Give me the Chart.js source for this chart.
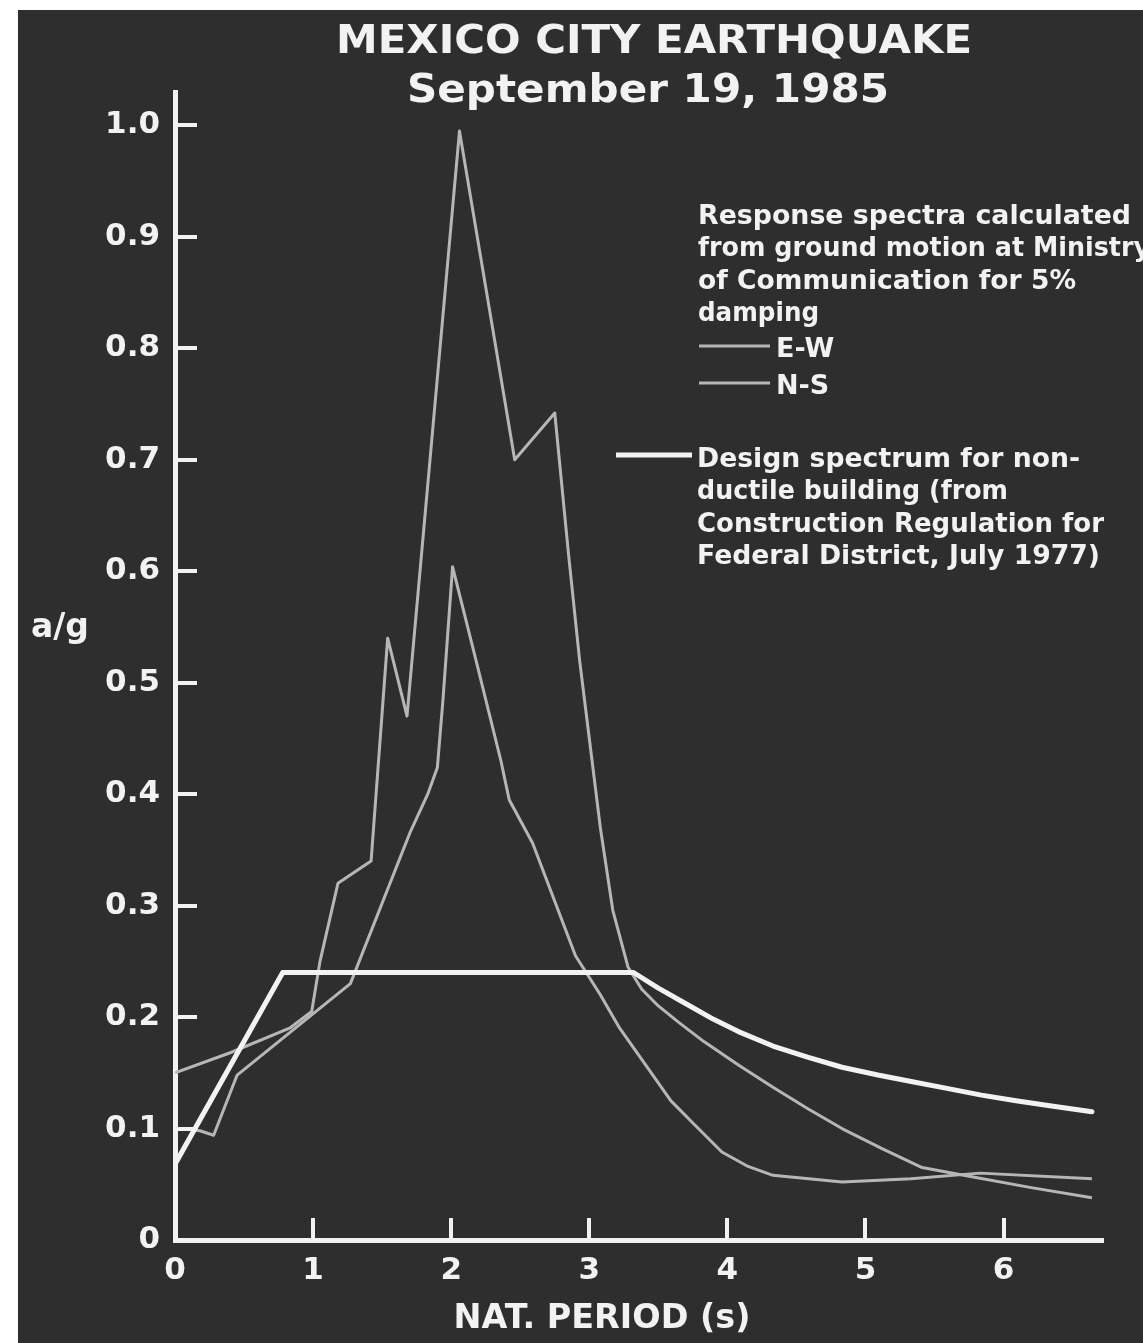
<!DOCTYPE html>
<html>
<head>
<meta charset="utf-8">
<style>
  html, body { margin: 0; padding: 0; background: #ffffff; }
  canvas { display: block; }
</style>
<script src="https://cdn.jsdelivr.net/npm/chart.js@4.4.0/dist/chart.umd.min.js"></script>
</head>
<body>
<canvas id="c" width="1143" height="1343"></canvas>
<script>
// ---- Data ----
const ewPeriod = [0, 0.40, 0.83, 0.99, 1.05, 1.18, 1.42, 1.54, 1.68, 2.06, 2.46, 2.75, 2.85, 2.93, 2.99, 3.08, 3.17, 3.28, 3.38, 3.50, 3.65, 3.83, 4.08, 4.33, 4.58, 4.83, 5.12, 5.41, 5.76, 6.20, 6.64];
const ewAccel  = [0.150, 0.168, 0.190, 0.205, 0.250, 0.320, 0.340, 0.540, 0.470, 0.995, 0.700, 0.742, 0.615, 0.520, 0.460, 0.370, 0.296, 0.245, 0.225, 0.210, 0.195, 0.178, 0.157, 0.137, 0.118, 0.100, 0.082, 0.065, 0.057, 0.047, 0.038];

const nsPeriod = [0.05, 0.18, 0.28, 0.45, 1.27, 1.70, 1.83, 1.90, 1.94, 2.01, 2.16, 2.36, 2.42, 2.59, 2.90, 3.08, 3.22, 3.46, 3.59, 3.75, 3.96, 4.15, 4.33, 4.83, 5.33, 5.83, 6.64];
const nsAccel  = [0.100, 0.098, 0.094, 0.148, 0.230, 0.365, 0.400, 0.424, 0.484, 0.604, 0.530, 0.430, 0.395, 0.356, 0.255, 0.220, 0.190, 0.148, 0.125, 0.105, 0.079, 0.066, 0.058, 0.052, 0.055, 0.060, 0.055];

const designPeriod = [0, 0.78, 3.32, 3.50, 3.70, 3.90, 4.08, 4.33, 4.58, 4.83, 5.09, 5.34, 5.59, 5.84, 6.09, 6.36, 6.64];
const designAccel  = [0.068, 0.240, 0.240, 0.226, 0.212, 0.198, 0.187, 0.174, 0.164, 0.155, 0.148, 0.142, 0.136, 0.130, 0.125, 0.120, 0.115];

const xTickValues = [0, 1, 2, 3, 4, 5, 6];
const yTickValues = [0, 0.1, 0.2, 0.3, 0.4, 0.5, 0.6, 0.7, 0.8, 0.9, 1.0];

const titleLines = ['MEXICO CITY EARTHQUAKE', 'September 19, 1985'];
const yAxisTitle = 'a/g';
const xAxisTitle = 'NAT. PERIOD (s)';
const noteLines = ['Response spectra calculated', 'from ground motion at Ministry', 'of Communication for 5%', 'damping'];
const seriesNames = ['E-W', 'N-S'];
const designLines = ['Design spectrum for non-', 'ductile building (from', 'Construction Regulation for', 'Federal District, July 1977)'];

// ---- Style ----
const BG = '#2e2e2e';
const INK = '#f2f2f2';
const GREY = '#b6b6b6';
const FONT = '"DejaVu Sans", "Liberation Sans", sans-serif';
const noteWidths = [433, 452, 378, 121];
const designWidths = [383, 311, 407, 403];

const toPts = (xs, ys) => xs.map((x, i) => ({ x: x, y: ys[i] }));

function fitText(ctx, text, x, y, width, align) {
  const w = ctx.measureText(text).width;
  const s = width / w;
  ctx.save();
  ctx.translate(x, y);
  ctx.scale(s, 1);
  ctx.textAlign = align;
  ctx.fillText(text, 0, 0);
  ctx.restore();
}

const decor = {
  id: 'decor',
  beforeDraw(chart) {
    const { ctx, width, height } = chart;
    ctx.save();
    ctx.fillStyle = '#ffffff';
    ctx.fillRect(0, 0, width, height);
    ctx.fillStyle = BG;
    ctx.fillRect(18, 10, width - 18, height - 10);
    ctx.restore();
  },
  afterDraw(chart) {
    const { ctx, chartArea } = chart;
    const xs = chart.scales.x, ys = chart.scales.y;
    ctx.save();
    // inward tick marks
    ctx.strokeStyle = INK;
    ctx.lineWidth = 4;
    ctx.lineCap = 'butt';
    yTickValues.forEach(v => {
      if (v === 0) return;
      const py = Math.round(ys.getPixelForValue(v));
      ctx.beginPath(); ctx.moveTo(chartArea.left, py); ctx.lineTo(chartArea.left + 22, py); ctx.stroke();
    });
    xTickValues.forEach(v => {
      if (v === 0) return;
      const px = Math.round(xs.getPixelForValue(v));
      ctx.beginPath(); ctx.moveTo(px, chartArea.bottom); ctx.lineTo(px, chartArea.bottom - 22); ctx.stroke();
    });

    ctx.fillStyle = INK;
    ctx.textBaseline = 'alphabetic';
    // title
    ctx.font = 'bold 39px ' + FONT;
    fitText(ctx, titleLines[0], 654, 53, 636, 'center');
    fitText(ctx, titleLines[1], 648, 102, 482, 'center');

    // axis titles
    ctx.font = 'bold 33px ' + FONT;
    ctx.textAlign = 'left';
    ctx.fillText(yAxisTitle, 31, 637);
    ctx.font = 'bold 34px ' + FONT;
    fitText(ctx, xAxisTitle, 602, 1328, 297, 'center');

    // annotation / legend
    ctx.font = 'bold 27px ' + FONT;
    const nb = [224, 256, 289, 321];
    noteLines.forEach((t, i) => fitText(ctx, t, 698, nb[i], noteWidths[i], 'left'));
    ctx.strokeStyle = GREY;
    ctx.lineWidth = 3;
    ctx.beginPath(); ctx.moveTo(699, 346); ctx.lineTo(770, 346); ctx.stroke();
    ctx.beginPath(); ctx.moveTo(699, 383); ctx.lineTo(770, 383); ctx.stroke();
    ctx.textAlign = 'left';
    ctx.fillText(seriesNames[0], 776, 357);
    ctx.fillText(seriesNames[1], 776, 394);
    ctx.strokeStyle = INK;
    ctx.lineWidth = 5;
    ctx.beginPath(); ctx.moveTo(616, 455); ctx.lineTo(692, 455); ctx.stroke();
    const db = [467, 499, 532, 564];
    designLines.forEach((t, i) => fitText(ctx, t, 697, db[i], designWidths[i], 'left'));
    ctx.restore();
  }
};

const tickFont = { family: FONT, size: 31, weight: 'bold' };

new Chart(document.getElementById('c'), {
  type: 'line',
  data: {
    datasets: [
      { label: 'Design spectrum', data: toPts(designPeriod, designAccel), borderColor: INK, borderWidth: 5,
        pointRadius: 0, fill: false, tension: 0, order: 0, borderJoinStyle: 'round', borderCapStyle: 'round' },
      { label: seriesNames[0], data: toPts(ewPeriod, ewAccel), borderColor: GREY, borderWidth: 3,
        pointRadius: 0, fill: false, tension: 0, order: 1, borderJoinStyle: 'round' },
      { label: seriesNames[1], data: toPts(nsPeriod, nsAccel), borderColor: GREY, borderWidth: 3,
        pointRadius: 0, fill: false, tension: 0, order: 2, borderJoinStyle: 'round' }
    ]
  },
  options: {
    responsive: false,
    animation: false,
    devicePixelRatio: 1,
    layout: { padding: { left: 0, top: 92, right: 40, bottom: 0 } },
    plugins: { legend: { display: false }, title: { display: false }, tooltip: { enabled: false } },
    scales: {
      x: {
        type: 'linear', min: 0, max: 6.72,
        afterBuildTicks(s) { s.ticks = xTickValues.map(v => ({ value: v })); },
        afterFit(s) { s.height = 103; },
        ticks: { color: INK, font: tickFont, padding: 12, maxRotation: 0, autoSkip: false,
                 callback: v => String(v) },
        grid: { display: true, drawOnChartArea: false, drawTicks: false },
        border: { display: true, color: INK, width: 5 }
      },
      y: {
        type: 'linear', min: 0, max: 1.03,
        afterBuildTicks(s) { s.ticks = yTickValues.map(v => ({ value: v })); },
        afterFit(s) { s.width = 175; },
        ticks: { color: INK, font: tickFont, padding: 15, autoSkip: false,
                 callback: v => (v === 0 ? '0' : Number(v).toFixed(1)) },
        grid: { display: true, drawOnChartArea: false, drawTicks: false },
        border: { display: true, color: INK, width: 5 }
      }
    }
  },
  plugins: [decor]
});
</script>
</body>
</html>
